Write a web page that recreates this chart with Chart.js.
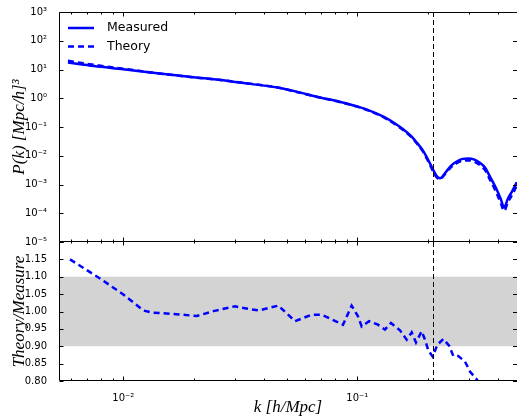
<!DOCTYPE html>
<html>
<head>
<meta charset="utf-8">
<script src="https://cdn.jsdelivr.net/npm/chart.js@4.4.1/dist/chart.umd.min.js"></script>
<style>
  html, body { margin: 0; padding: 0; background: #fff; overflow: hidden; }
  #wrap { position: relative; width: 517px; height: 416px; }
  #wrap canvas { position: absolute; left: 0; top: 0; }
</style>
</head>
<body>
<div id="wrap">
  <canvas id="ratioChart" width="517" height="416"></canvas>
  <canvas id="powerChart" width="517" height="416"></canvas>
</div>
<script>
// top panel: P(k)
const kPower = [0.0058, 0.0075, 0.01, 0.014, 0.02, 0.028, 0.035, 0.045, 0.055, 0.067,
    0.084, 0.1, 0.115, 0.13, 0.145, 0.158, 0.17, 0.18, 0.19, 0.198,
    0.205, 0.212, 0.218, 0.226, 0.235, 0.25, 0.266, 0.282, 0.298, 0.315,
    0.335, 0.352, 0.37, 0.39, 0.41, 0.424, 0.44, 0.46, 0.48];
const pMeasured = [17.4, 13.2, 10.2, 7.4, 5.4, 4.0, 3.16, 2.4, 1.7, 1.13,
    0.76, 0.52, 0.35, 0.224, 0.132, 0.08, 0.048, 0.028, 0.016, 0.009,
    0.0052, 0.003, 0.002, 0.00166, 0.00224, 0.0043, 0.0063, 0.0078, 0.0081, 0.0075,
    0.0056, 0.0038, 0.0018, 0.0008, 0.00032, 0.00016, 0.00032, 0.0006, 0.0012];
const pTheory = [20.0, 14.5, 10.7, 7.4, 5.35, 4.04, 3.18, 2.43, 1.66, 1.12,
    0.74, 0.51, 0.34, 0.214, 0.125, 0.075, 0.045, 0.026, 0.0147, 0.0081,
    0.0046, 0.0026, 0.0018, 0.0015, 0.0021, 0.0038, 0.0055, 0.0067, 0.0069, 0.0063,
    0.0046, 0.0031, 0.0014, 0.0006, 0.00023, 0.00012, 0.00024, 0.00045, 0.0009];

// bottom panel: Theory/Measure
const kRatio = [0.00592, 0.00795, 0.01, 0.01218, 0.01321, 0.01637, 0.0206, 0.02427, 0.03, 0.0345,
    0.038, 0.046, 0.0542, 0.0638, 0.0704, 0.0764, 0.0869, 0.0946, 0.1007, 0.1044,
    0.1122, 0.1226, 0.1313, 0.1393, 0.1522, 0.1626, 0.1708, 0.1782, 0.1884, 0.1947,
    0.2011, 0.21, 0.2197, 0.2331, 0.2472, 0.2572, 0.27, 0.2886, 0.3031, 0.3237,
    0.36, 0.42];
const ratioValues = [1.15, 1.095, 1.049, 1.003, 0.997, 0.993, 0.987, 1.001, 1.015, 1.007,
    1.003, 1.017, 0.972, 0.991, 0.991, 0.98, 0.962, 1.017, 0.986, 0.957,
    0.972, 0.962, 0.948, 0.967, 0.946, 0.919, 0.94, 0.911, 0.943, 0.919,
    0.888, 0.87, 0.904, 0.921, 0.901, 0.872, 0.872, 0.856, 0.827, 0.805,
    0.76, 0.70];

const powerTicks = [1e-5, 1e-4, 1e-3, 1e-2, 1e-1, 1e0, 1e1, 1e2, 1e3];
const ratioTicks = [0.80, 0.85, 0.90, 0.95, 1.00, 1.05, 1.10, 1.15, 1.20];
const K_MIN = 0.005312, K_MAX = 0.4814;
const K_CUT = 0.21;        // vertical dashed line
const BAND = [0.9, 1.1];   // grey band

const W = 517, H = 416;
const PLOT_LEFT = 59, PLOT_TOP = 12, SPLIT = 242, PLOT_BOTTOM = 381;
const BLUE = '#0000ff';
const tickFont = {family: 'DejaVu Sans', size: 10};
const titleFont = {family: 'Liberation Serif', style: 'italic', size: 17, lineHeight: 1};

// x ticks 1..9 x 10^n, major on the decades
const xTicks = [];
for (let e = -3; e <= 0; e++) {
    for (let m = 1; m <= 9; m++) {
        const v = m * Math.pow(10, e);
        if (v >= K_MIN && v <= K_MAX) xTicks.push({value: v, major: m === 1});
    }
}

const SUP = {'-': '\u207b', '0': '\u2070', '1': '\u00b9', '2': '\u00b2', '3': '\u00b3',
    '4': '\u2074', '5': '\u2075', '6': '\u2076', '7': '\u2077', '8': '\u2078', '9': '\u2079'};
function pow10Label(v) {
    const e = Math.round(Math.log10(v));
    return '10' + String(e).split('').map(c => SUP[c]).join('');
}
function isDecade(v) {
    const e = Math.log10(v);
    return Math.abs(e - Math.round(e)) < 1e-9;
}

function points(xs, ys) {
    return xs.map((x, i) => ({x: x, y: ys[i]}));
}

// band, dashed cut line, inward ticks, frame and legend
function panelPlugin(opts) {
    return {
        id: 'panel',
        beforeDatasetsDraw(chart) {
            if (!opts.band) return;
            const {ctx, chartArea: a, scales: {y}} = chart;
            const y1 = y.getPixelForValue(opts.band[1]);
            const y0 = y.getPixelForValue(opts.band[0]);
            ctx.save();
            ctx.fillStyle = '#d3d3d3';
            ctx.fillRect(a.left, y1, a.right - a.left, y0 - y1);
            ctx.restore();
        },
        afterDatasetsDraw(chart) {
            const {ctx, chartArea: a, scales: {x}} = chart;
            const px = Math.round(x.getPixelForValue(K_CUT)) + 0.5;
            ctx.save();
            ctx.strokeStyle = '#000';
            ctx.lineWidth = 1;
            ctx.setLineDash([5, 3]);
            ctx.beginPath();
            ctx.moveTo(px, a.top);
            ctx.lineTo(px, a.bottom);
            ctx.stroke();
            ctx.restore();
        },
        afterDraw(chart) {
            const {ctx, chartArea: a, scales: {x, y}} = chart;
            const top = opts.topEdge, bottom = a.bottom - 0.5, left = a.left + 0.5;
            ctx.save();
            ctx.strokeStyle = '#000';
            ctx.lineWidth = 1;
            ctx.beginPath();
            xTicks.forEach(t => {
                const px = Math.round(x.getPixelForValue(t.value)) + 0.5;
                const len = t.major ? 4 : 2;
                ctx.moveTo(px, bottom); ctx.lineTo(px, bottom - len);
                ctx.moveTo(px, top); ctx.lineTo(px, top + len);
            });
            opts.yTicks.forEach(v => {
                const py = Math.round(y.getPixelForValue(v)) + 0.5;
                ctx.moveTo(left, py); ctx.lineTo(left + 4, py);
                ctx.moveTo(a.right, py); ctx.lineTo(a.right - 4, py);
            });
            ctx.moveTo(left, top); ctx.lineTo(a.right, top);
            ctx.moveTo(left, bottom); ctx.lineTo(a.right, bottom);
            ctx.moveTo(left, top); ctx.lineTo(left, bottom);
            ctx.stroke();

            if (opts.legend) {
                chart.data.datasets.forEach((ds, i) => {
                    const yy = a.top + 16 + i * 18.6;
                    ctx.strokeStyle = ds.borderColor;
                    ctx.lineWidth = ds.borderWidth;
                    ctx.setLineDash(ds.borderDash || []);
                    ctx.beginPath();
                    ctx.moveTo(a.left + 9, yy);
                    ctx.lineTo(a.left + 35, yy);
                    ctx.stroke();
                    ctx.fillStyle = '#000';
                    ctx.font = '12.5px "DejaVu Sans"';
                    ctx.textBaseline = 'middle';
                    ctx.fillText(ds.label, a.left + 48, yy);
                });
            }
            ctx.restore();
        }
    };
}

function fixYAxis(scale) {
    scale.width = PLOT_LEFT;
    scale.paddingTop = 0;
    scale.paddingBottom = 0;
}

new Chart(document.getElementById('powerChart'), {
    type: 'line',
    data: {
        datasets: [
            {
                label: 'Measured',
                data: points(kPower, pMeasured),
                borderColor: BLUE,
                borderWidth: 2.5,
                pointRadius: 0,
                cubicInterpolationMode: 'monotone',
                fill: false,
                clip: 0
            },
            {
                label: 'Theory',
                data: points(kPower, pTheory),
                borderColor: BLUE,
                borderWidth: 2.5,
                borderDash: [6, 4],
                pointRadius: 0,
                cubicInterpolationMode: 'monotone',
                fill: false,
                clip: 0
            }
        ]
    },
    options: {
        responsive: false,
        animation: false,
        events: [],
        layout: {padding: {top: PLOT_TOP, bottom: H - SPLIT, left: 0, right: 0}},
        plugins: {legend: {display: false}, tooltip: {enabled: false}},
        scales: {
            x: {type: 'logarithmic', min: K_MIN, max: K_MAX, bounds: 'data', display: false},
            y: {
                type: 'logarithmic',
                min: 1e-5,
                max: 1e3,
                bounds: 'data',
                afterBuildTicks: s => { s.ticks = powerTicks.map(v => ({value: v})); },
                afterFit: fixYAxis,
                grid: {display: false},
                border: {display: false},
                ticks: {callback: v => pow10Label(v), font: tickFont, color: '#000', padding: 4, autoSkip: false},
                title: {display: true, text: 'P(k) [Mpc/h]\u00b3', font: titleFont, color: '#000', padding: {top: 11, bottom: 0}}
            }
        }
    },
    plugins: [panelPlugin({yTicks: powerTicks, topEdge: PLOT_TOP + 0.5, legend: true})]
});

new Chart(document.getElementById('ratioChart'), {
    type: 'line',
    data: {
        datasets: [
            {
                label: 'Theory/Measure',
                data: points(kRatio, ratioValues),
                borderColor: BLUE,
                borderWidth: 2.5,
                borderDash: [6, 4],
                pointRadius: 0,
                tension: 0,
                fill: false,
                clip: 0
            }
        ]
    },
    options: {
        responsive: false,
        animation: false,
        events: [],
        layout: {padding: {top: SPLIT, bottom: 0, left: 0, right: 0}},
        plugins: {legend: {display: false}, tooltip: {enabled: false}},
        scales: {
            x: {
                type: 'logarithmic',
                min: K_MIN,
                max: K_MAX,
                bounds: 'data',
                afterBuildTicks: s => { s.ticks = xTicks.map(t => ({value: t.value})); },
                afterFit: s => { s.height = H - PLOT_BOTTOM; s.paddingLeft = 0; s.paddingRight = 0; },
                grid: {display: false},
                border: {display: false},
                ticks: {
                    callback: v => isDecade(v) ? pow10Label(v) : '',
                    font: tickFont, color: '#000', padding: 3, autoSkip: false, maxRotation: 0
                },
                title: {display: true, text: 'k [h/Mpc]', font: titleFont, color: '#000', padding: 0}
            },
            y: {
                type: 'linear',
                min: 0.8,
                max: 1.2,
                afterBuildTicks: s => { s.ticks = ratioTicks.map(v => ({value: v})); },
                afterFit: fixYAxis,
                grid: {display: false},
                border: {display: false},
                ticks: {callback: v => v > 1.17 ? '' : v.toFixed(2), font: tickFont, color: '#000', padding: 4, autoSkip: false},
                title: {display: true, text: 'Theory/Measure', font: titleFont, color: '#000', padding: {top: 11, bottom: 0}}
            }
        }
    },
    plugins: [panelPlugin({yTicks: ratioTicks, topEdge: SPLIT - 0.5, band: BAND})]
});
</script>
</body>
</html>
